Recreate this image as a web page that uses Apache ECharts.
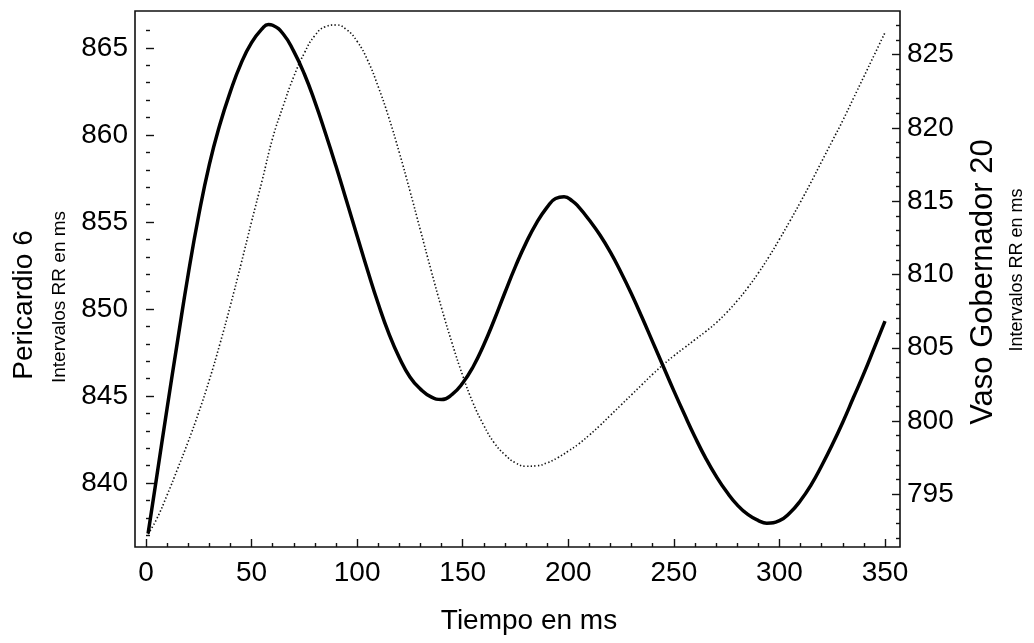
<!DOCTYPE html>
<html>
<head>
<meta charset="utf-8">
<script src="https://cdn.jsdelivr.net/npm/echarts@6/dist/echarts.min.js"></script>
<style>
html,body{margin:0;padding:0;background:#fff;}
#c{width:1034px;height:643px;}
</style>
</head>
<body>
<div id="c"></div>
<script>
// Time (ms) and values
var solidX = [1,5,10,15,20,25,30,35,40,45,50,55,58,60,65,70,75,80,85,90,95,100,105,110,115,120,125,130,135,140,145,150,155,160,165,170,175,180,185,190,194,198,202,205,210,215,220,225,230,235,240,245,250,255,260,265,270,275,280,285,290,294,300,305,310,315,320,325,330,335,340,345,350];
var solidY = [837.1,840.3,844.3,848.2,852.0,855.4,858.3,860.6,862.5,864.1,865.3,866.1,866.35,866.3,865.8,864.8,863.5,861.9,860.1,858.2,856.2,854.2,852.2,850.3,848.6,847.2,846.1,845.4,844.95,844.8,845.1,845.75,846.7,847.95,849.4,850.95,852.45,853.8,854.95,855.85,856.35,856.45,856.2,855.85,855.1,854.25,853.25,852.1,850.85,849.5,848.1,846.7,845.3,843.95,842.65,841.45,840.4,839.5,838.75,838.2,837.85,837.7,837.85,838.3,839.0,839.9,841.0,842.2,843.5,844.9,846.3,847.8,849.3];

var dotX = [1,5,10,15,20,25,30,35,40,45,50,55,60,65,70,75,80,85,90,95,100,105,110,115,120,125,130,135,140,145,150,155,160,165,170,175,180,185,190,195,200,205,210,215,220,225,230,235,240,245,250,255,260,265,270,275,280,285,290,295,300,305,310,315,320,325,330,335,340,345,350];
var dotY = [792.3,793.3,794.95,796.75,798.6,800.6,802.8,805.25,807.9,810.7,813.6,816.4,819.3,821.5,823.5,825.1,826.3,826.9,827.02,826.7,825.9,824.6,822.8,820.7,818.3,815.7,813.0,810.3,807.7,805.3,803.1,801.2,799.7,798.5,797.7,797.15,796.92,796.95,797.15,797.5,797.95,798.45,799.05,799.7,800.4,801.1,801.8,802.5,803.2,803.85,804.45,805.0,805.55,806.1,806.7,807.4,808.2,809.1,810.1,811.2,812.4,813.65,814.95,816.3,817.7,819.1,820.5,822.0,823.5,825.0,826.5];

var xMajor = [0,50,100,150,200,250,300,350];
var xMinor = [10,20,30,40,60,70,80,90,110,120,130,140,160,170,180,190,210,220,230,240,260,270,280,290,310,320,330,340];
var leftMajor = [840,845,850,855,860,865];
var leftMinor = [837,838,839,841,842,843,844,846,847,848,849,851,852,853,854,856,857,858,859,861,862,863,864,866];
var rightMajor = [795,800,805,810,815,820,825];
var rightMinor = [792,793,794,796,797,798,799,801,802,803,804,806,807,808,809,811,812,813,814,816,817,818,819,821,822,823,824,826,827];

var xTitle = 'Tiempo en ms';
var leftTitle = 'Pericardio 6';
var rightTitle = 'Vaso Gobernador 20';
var subTitle = 'Intervalos RR en ms';

function zip(a, b) { return a.map(function (v, i) { return [v, b[i]]; }); }

var FONT = '"Liberation Sans", Arial, Helvetica, sans-serif';
var XMIN = -5.2, XMAX = 357.1;
var LMIN = 836.33, LMAX = 867.12;
var RMIN = 791.41, RMAX = 827.97;

function xAx(custom, len, labels) {
  return {
    type: 'value', min: XMIN, max: XMAX, position: 'bottom',
    axisLine: { show: false },
    splitLine: { show: false },
    axisTick: { show: true, inside: true, length: len, customValues: custom, lineStyle: { color: '#111', width: 1.4 } },
    axisLabel: { show: labels, customValues: custom, fontSize: 28, color: '#000', fontFamily: FONT, margin: 12 }
  };
}
function yAx(pos, min, max, custom, len, labels) {
  return {
    type: 'value', min: min, max: max, position: pos,
    axisLine: { show: false },
    splitLine: { show: false },
    axisTick: { show: true, inside: true, length: len, customValues: custom, lineStyle: { color: '#111', width: 1.4 } },
    axisLabel: { show: labels, customValues: custom, fontSize: 28, color: '#000', fontFamily: FONT, margin: 7 }
  };
}

var chart = echarts.init(document.getElementById('c'), null, { renderer: 'canvas' });
chart.setOption({
  animation: false,
  backgroundColor: '#fff',
  grid: { left: 135, right: 134, top: 11, bottom: 96, show: true, borderColor: '#111', borderWidth: 1.6, backgroundColor: 'transparent' },
  xAxis: [ xAx(xMajor, 8, true), xAx(xMinor, 4, false) ],
  yAxis: [
    yAx('left', LMIN, LMAX, leftMajor, 8, true),
    yAx('left', LMIN, LMAX, leftMinor, 4, false),
    yAx('right', RMIN, RMAX, rightMajor, 8, true),
    yAx('right', RMIN, RMAX, rightMinor, 4, false)
  ],
  series: [
    { type: 'line', xAxisIndex: 0, yAxisIndex: 0, data: zip(solidX, solidY), smooth: 0.5, symbol: 'none',
      lineStyle: { color: '#000', width: 3.5 }, z: 3 },
    { type: 'line', xAxisIndex: 0, yAxisIndex: 2, data: zip(dotX, dotY), smooth: 0.5, symbol: 'none',
      lineStyle: { color: '#111', width: 1.6, type: [1.4, 2.2] }, z: 2 }
  ],
  graphic: [
    { type: 'text', x: 529, y: 621, style: { text: xTitle, font: '28px ' + FONT, fill: '#000', textAlign: 'center', textVerticalAlign: 'middle' } },
    { type: 'text', x: 24, y: 305, rotation: Math.PI / 2, style: { text: leftTitle, font: '28px ' + FONT, fill: '#000', textAlign: 'center', textVerticalAlign: 'middle' } },
    { type: 'text', x: 60, y: 297, rotation: Math.PI / 2, style: { text: subTitle, font: '19px ' + FONT, fill: '#000', textAlign: 'center', textVerticalAlign: 'middle' } },
    { type: 'text', x: 983, y: 282, rotation: Math.PI / 2, style: { text: rightTitle, font: '31px ' + FONT, fill: '#000', textAlign: 'center', textVerticalAlign: 'middle' } },
    { type: 'text', x: 1017, y: 270, rotation: Math.PI / 2, style: { text: subTitle, font: '18px ' + FONT, fill: '#000', textAlign: 'center', textVerticalAlign: 'middle' } }
  ]
});
</script>
</body>
</html>
